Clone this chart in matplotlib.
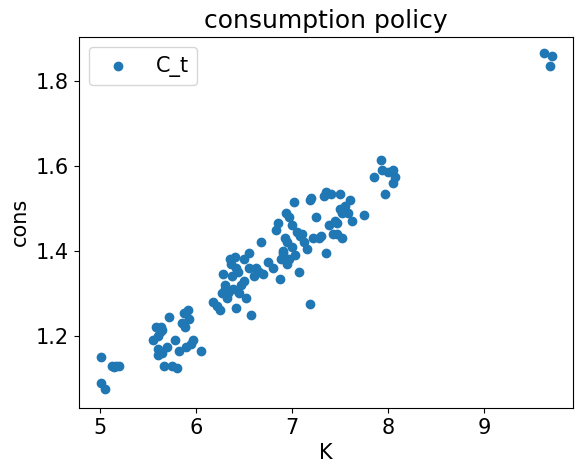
import matplotlib
matplotlib.use("Agg")
import matplotlib.pyplot as plt

K = [5.01,5.01,5.05,5.12,5.17,5.2,5.15,
     5.55,5.58,5.6,5.6,5.62,5.63,5.65,5.67,5.7,5.72,5.75,5.78,5.8,5.82,5.85,5.87,5.88,5.9,5.92,5.93,5.95,5.97,6.05,5.65,5.6,
     6.18,6.22,6.25,6.27,6.28,6.3,6.32,6.33,6.35,6.37,6.38,6.4,6.42,6.44,6.45,6.47,6.5,6.5,6.52,6.55,6.55,6.57,6.6,6.62,6.65,6.68,6.7,6.42,6.3,6.36,
     6.75,6.8,6.83,6.85,6.87,6.88,6.9,6.92,6.93,6.95,6.95,6.97,7.0,7.0,7.02,7.03,7.05,7.07,7.08,7.1,7.12,7.15,7.18,7.18,7.2,6.97,6.9,
     7.22,7.25,7.28,7.3,7.33,7.35,7.35,7.38,7.4,7.42,7.45,7.47,7.5,7.5,7.52,7.52,7.55,7.58,7.6,7.62,7.75,7.85,7.92,7.93,7.97,8.0,8.05,8.05,8.07,7.47,
     9.62,9.7,9.68]
C = [1.15,1.09,1.075,1.13,1.13,1.13,1.128,
     1.19,1.22,1.2,1.155,1.21,1.22,1.16,1.13,1.175,1.245,1.13,1.19,1.125,1.165,1.23,1.255,1.22,1.175,1.26,1.24,1.18,1.19,1.165,1.215,1.17,
     1.28,1.27,1.26,1.3,1.345,1.32,1.29,1.3,1.38,1.34,1.31,1.385,1.36,1.35,1.3,1.32,1.38,1.33,1.29,1.395,1.36,1.25,1.34,1.36,1.35,1.42,1.345,1.265,1.31,1.37,
     1.375,1.36,1.45,1.465,1.335,1.38,1.395,1.43,1.49,1.42,1.37,1.48,1.46,1.41,1.515,1.39,1.445,1.35,1.435,1.44,1.42,1.405,1.52,1.275,1.525,1.38,1.4,
     1.43,1.48,1.43,1.435,1.53,1.54,1.395,1.46,1.535,1.44,1.47,1.44,1.535,1.5,1.43,1.49,1.505,1.49,1.52,1.47,1.485,1.575,1.615,1.59,1.535,1.585,1.56,1.59,1.575,1.465,
     1.865,1.86,1.835]

plt.rcParams['font.size'] = 15
fig = plt.figure(figsize=(5.84, 4.72), dpi=100)
ax = fig.add_subplot(111)
fig.subplots_adjust(left=0.135, right=0.981, top=0.922, bottom=0.136)
ax.scatter(K, C, color='#1f77b4', label='C_t')
ax.set_xlim(4.78, 9.92)
ax.set_ylim(1.031, 1.904)
ax.set_xticks([5, 6, 7, 8, 9])
ax.set_yticks([1.2, 1.4, 1.6, 1.8])
ax.set_xlabel('K')
ax.set_ylabel('cons')
ax.set_title('consumption policy', fontsize=18)
ax.legend(loc='upper left')
fig.savefig('out.png', dpi=100)
